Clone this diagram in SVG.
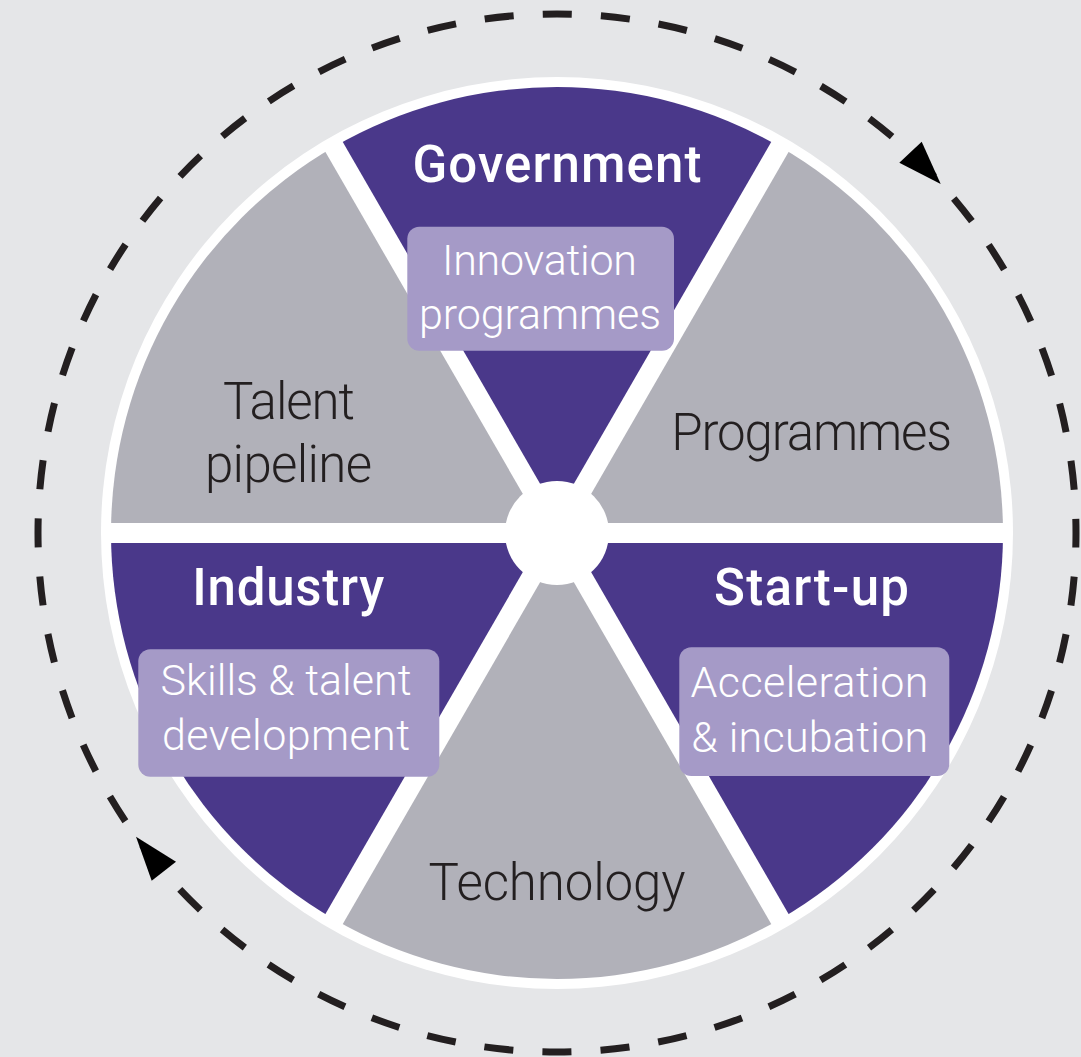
<svg xmlns="http://www.w3.org/2000/svg" width="1081" height="1057" viewBox="0 0 1081 1057">
  <style>
    .purple { fill: #4a388a; }
    .gray { fill: #b1b1b9; }
    .box { fill: #a59ac7; }
    .title { font-family: Roboto, "Liberation Sans", Arial, sans-serif; font-weight: 500; font-size: 51px; fill: #ffffff; text-anchor: middle; }
    .label { font-family: Roboto, "Liberation Sans", Arial, sans-serif; font-weight: 300; font-size: 51px; fill: #231f20; text-anchor: middle; }
    .boxtext { font-family: Roboto, "Liberation Sans", Arial, sans-serif; font-weight: 300; font-size: 43px; fill: #ffffff; text-anchor: middle; }
    .sep { stroke: #ffffff; stroke-width: 20; fill: none; }
    .dash { fill: none; stroke: #231f20; stroke-width: 7; stroke-dasharray: 29.116 29.116; stroke-dashoffset: 14.558; }
    .arrow { fill: #000000; }
  </style>
  <rect x="0" y="0" width="1081" height="1057" fill="#e5e6e8"/>
  <circle cx="557" cy="533" r="456" fill="#ffffff"/>

  <g id="connectors">
    <circle class="dash" cx="557" cy="533" r="519"/>
    <polygon class="arrow" points="921.7,141.7 899.3,162.7 940.7,184"/>
    <polygon class="arrow" points="136,836.7 176,861.7 151.7,880.7"/>
  </g>

  <g id="node-government">
    <path class="purple" d="M557,533 L334,146.75 A446,446 0 0 1 780,146.75 Z"/>
  </g>
  <g id="node-programmes">
    <path class="gray" d="M557,533 L780,146.75 A446,446 0 0 1 1003,533 Z"/>
  </g>
  <g id="node-startup">
    <path class="purple" d="M557,533 L1003,533 A446,446 0 0 1 780,919.25 Z"/>
  </g>
  <g id="node-technology">
    <path class="gray" d="M557,533 L780,919.25 A446,446 0 0 1 334,919.25 Z"/>
  </g>
  <g id="node-industry">
    <path class="purple" d="M557,533 L334,919.25 A446,446 0 0 1 111,533 Z"/>
  </g>
  <g id="node-talent">
    <path class="gray" d="M557,533 L111,533 A446,446 0 0 1 334,146.75 Z"/>
  </g>

  <g id="separators">
    <line class="sep" x1="104" y1="533" x2="1010" y2="533"/>
    <line class="sep" x1="330.5" y1="140.7" x2="783.5" y2="925.3"/>
    <line class="sep" x1="783.5" y1="140.7" x2="330.5" y2="925.3"/>
    <circle cx="557" cy="533" r="52" fill="#ffffff"/>
  </g>

  <g id="labels-government">
    <text class="title" x="557" y="182" textLength="289">Government</text>
    <rect class="box" x="407.3" y="226.7" width="266.7" height="124" rx="12"/>
    <text class="boxtext" x="539.5" y="275" textLength="195">Innovation</text>
    <text class="boxtext" x="540" y="329" textLength="242">programmes</text>
  </g>
  <g id="labels-talent">
    <text class="label" x="289" y="418.5" textLength="132">Talent</text>
    <text class="label" x="288.5" y="481.5" textLength="167">pipeline</text>
  </g>
  <g id="labels-programmes">
    <text class="label" x="811.7" y="450" textLength="281">Programmes</text>
  </g>
  <g id="labels-industry">
    <text class="title" x="288.3" y="605" textLength="192">Industry</text>
    <rect class="box" x="138.3" y="649.3" width="301" height="127.4" rx="12"/>
    <text class="boxtext" x="286" y="695" textLength="251">Skills &amp; talent</text>
    <text class="boxtext" x="286" y="750" textLength="248">development</text>
  </g>
  <g id="labels-startup">
    <text class="title" x="811.5" y="605" textLength="195">Start-up</text>
    <rect class="box" x="679.3" y="647.3" width="270" height="128.7" rx="12"/>
    <text class="boxtext" x="809.5" y="696.7" textLength="238">Acceleration</text>
    <text class="boxtext" x="809.7" y="751.7" textLength="237">&amp; incubation</text>
  </g>
  <g id="labels-technology">
    <text class="label" x="557" y="900" textLength="257">Technology</text>
  </g>
</svg>
